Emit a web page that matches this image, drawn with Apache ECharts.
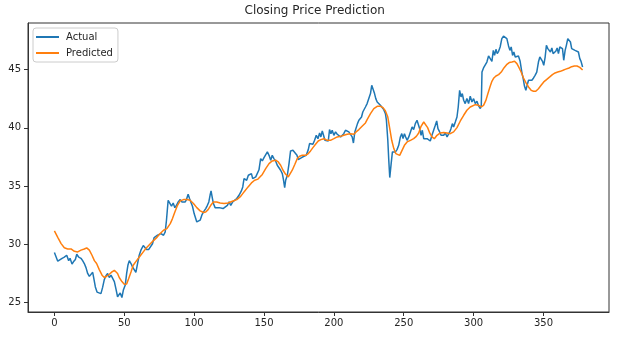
<!DOCTYPE html>
<html>
<head>
<meta charset="utf-8">
<script src="https://cdn.jsdelivr.net/npm/echarts@6/dist/echarts.min.js"></script>
<style>
html,body{margin:0;padding:0;background:#fff;}
#chart{width:617px;height:337px;}
</style>
</head>
<body>
<div id="chart"></div>
<script>
var titleText = 'Closing Price Prediction';
var seriesNames = ['Actual', 'Predicted'];
var xTickValues = [0, 50, 100, 150, 200, 250, 300, 350];
var yTickValues = [25, 30, 35, 40, 45];

var actualX = [0,1.2,2.4,3.6,5.5,7.1,8.8,10.2,11.2,12.6,13.6,15,16,17.4,19,20.2,21.4,22.6,23.8,25,26.2,27.4,28.1,29.3,30.5,31.7,33.3,34.5,35.7,36.9,38.1,39.3,40.5,41.7,42.9,44,45.2,46.4,47.1,48.3,49.3,50.7,51.7,52.6,53.6,54.8,55.9,57.1,58.3,59.5,60.7,61.9,63.6,65,65.9,67.4,68.8,70.2,71.4,73.8,76.2,78.1,79.3,80.2,81.4,82.6,83.8,85,86.2,87.4,88.6,90,91.2,92.4,93.6,94.5,95.7,96.7,97.6,98.8,100,101.2,101.9,103.1,104.3,105.5,106.7,108.3,109.5,110.5,111.4,112.1,113.1,113.8,115,116.2,117.9,119,120.7,122.1,123.8,125,126.2,127.6,129,130.5,132.1,133.8,134.8,135.7,136.7,137.6,138.8,140,141,141.9,142.9,144.1,145.2,146.4,147.6,148.8,150,151.2,152.4,153.6,154.8,155.9,157.1,158.3,159.5,160.7,161.9,163.1,163.8,164.8,165.5,166.7,167.9,169,170.7,172.1,173.6,174.5,175.5,176.9,178.6,180.2,181.7,182.6,183.8,185,186.2,187.4,188.6,189.8,190.7,191.7,192.6,193.6,194.8,196,196.9,197.9,198.8,200,201.2,202.4,203.6,204.8,206,207.1,208.3,209.5,210.7,211.9,213.1,214,215,215.9,216.9,217.9,218.8,219.8,220.7,221.7,222.6,223.8,225,226.2,227.1,228.1,229.1,230,231,232.1,233.3,234.5,235.7,236.9,237.6,238.6,239.3,240,241,241.9,242.9,244,245.2,246.4,247.6,248.6,249.5,250.5,251.4,252.4,253.6,254.8,256,257.1,258.3,259.5,260.7,261.4,262.4,263.3,264.3,265.5,266.7,267.9,269,270.2,271.4,272.6,273.6,274.5,275.7,276.7,277.6,278.6,279.8,281,282.1,282.9,283.8,284.8,285.7,286.9,288.1,289,290,291,291.9,292.9,294,295.2,296.4,297.6,298.8,300,301.2,302.4,303.6,304.8,305.5,306,307.1,308.3,309.5,310.7,311.9,313.1,314.1,315,316,316.9,317.9,319,320.2,321.4,322.6,323.8,325,326,326.9,327.9,328.8,329.8,331,332.1,333.3,334.5,335.5,336.4,337.4,338.3,339.3,340.5,341.7,342.9,344,345.2,346.4,347.4,348.3,349.3,350.2,351.2,352.1,353.1,354.1,355,356,356.9,357.9,358.8,359.8,360.7,361.7,362.6,363.6,364.5,365.5,366.4,367.4,368.3,369.3,370.2,371.4,372.6,373.8,375,376,376.9,378];
var actualY = [29.29,29.2,28.55,28.6,28.8,28.9,29.06,28.6,28.8,28.3,28.5,28.7,29.15,28.9,28.8,28.6,28.35,28.0,27.5,27.25,27.35,27.6,27.15,26.34,25.9,25.77,25.77,26.3,26.97,27.3,27.5,27.15,27.35,27.2,26.8,26.2,25.5,25.43,25.83,25.43,26.05,26.5,27.5,28.2,28.6,28.35,28.06,28.1,27.6,28.35,29.06,29.5,29.9,30.0,29.55,29.55,29.6,30.05,30.58,30.78,30.92,30.78,31.07,32.07,33.78,33.87,33.27,33.55,33.15,33.35,33.64,33.84,33.64,33.78,33.64,33.84,34.3,33.93,33.64,33.27,32.64,32.58,31.92,31.84,32.07,32.5,32.78,33.07,33.35,33.64,34.21,34.58,33.93,33.5,33.15,33.07,33.15,32.98,33.07,32.98,33.35,33.64,33.35,33.64,33.78,33.93,34.21,34.58,34.93,35.64,35.73,35.5,35.93,36.02,36.07,35.64,35.5,35.79,35.84,36.4,37.36,37.16,37.44,37.27,37.93,37.64,37.22,37.64,37.36,37.16,36.79,36.93,36.36,36.07,35.64,34.87,35.5,35.93,36.93,38.02,38.07,38.02,37.64,37.27,37.44,37.44,37.56,37.64,38.13,38.65,38.79,38.59,38.93,39.36,39.07,39.56,39.22,39.73,39.36,38.93,38.99,38.87,39.85,39.5,39.79,39.36,39.65,39.45,39.56,39.22,39.22,39.5,39.79,39.85,39.65,39.56,39.22,38.7,39.65,39.65,40.36,40.65,40.5,40.93,41.36,41.22,41.79,42.08,42.51,42.94,43.65,43.51,42.94,42.51,42.22,42.08,41.94,41.85,41.56,41.22,40.65,38.93,37.21,35.73,36.93,37.93,38.07,37.93,38.13,38.5,39.22,39.5,39.07,39.5,39.22,38.93,39.22,39.65,40.08,39.85,40.36,40.65,40.71,39.93,39.36,39.79,39.07,39.22,39.07,38.93,38.87,39.36,39.79,40.22,40.59,39.93,39.65,39.36,39.5,39.36,39.56,39.22,39.07,39.65,39.93,40.36,40.08,40.5,40.93,41.79,43.22,42.65,42.94,42.37,42.08,42.51,42.08,42.71,42.22,42.5,42.08,42.28,41.88,41.65,41.93,44.79,45.14,45.22,45.65,46.17,45.94,45.71,46.65,46.22,46.74,46.37,46.57,46.94,47.66,47.88,47.88,47.66,47.03,46.65,46.94,46.22,46.51,46.08,45.94,46.17,45.71,44.79,44.22,43.59,43.22,43.65,44.08,44.22,44.08,44.28,44.51,44.79,45.65,46.08,46.22,45.71,45.37,46.08,47.08,46.8,46.74,46.51,46.86,46.37,46.22,46.57,46.86,46.37,46.94,47.08,46.8,45.8,46.65,47.08,47.66,47.8,47.37,46.8,46.65,46.65,46.57,46.51,45.94,45.71,45.22];

var predX = [0,2.4,4.8,7.1,9.5,11.9,14.3,16.7,19,21.4,23.1,25,26.9,28.6,30.2,32.1,34.1,35.7,37.4,39.3,41.2,42.9,44,45.2,46.4,48.3,50,51.7,53.1,54.8,56.4,58.8,61.2,63.6,65.9,68.3,70.7,73,75,78.1,80.5,82.9,84.5,86.2,88.1,90,92.4,94.8,97.1,99.5,101.9,104.3,106.7,108.3,110,111.9,113.8,116.2,118.6,121.4,124.3,127.4,130.5,133.3,135.7,138.6,141,143.3,145.7,148.8,151.2,153.6,155.9,158.3,160.2,161.9,163.6,165.5,167.4,168.6,170.2,172.1,173.8,175.5,177.4,179.8,181.7,183.3,185,186.9,188.8,190.7,192.9,195.2,197.6,200,202.4,204.8,207.1,209.5,211.9,214.3,215.9,217.9,220.2,222.6,223.8,226.2,228.6,231,233.3,235.2,236.9,238.6,240,241.4,242.9,244.3,245.7,247.1,248.8,250.5,252.4,254.8,257.1,259,260.7,262.4,264.3,265.7,267.1,268.6,270.2,271.9,273.8,276.2,278.6,281,283.3,285.7,288.1,290.5,292.9,295.2,297.6,298.8,301.2,303.6,305.5,307.1,308.8,310.2,311.7,313.1,314.5,316,317.9,319.8,321.7,323.6,325.5,327.4,329.3,331,332.6,334,335.7,337.4,339.3,341.2,342.9,344.5,346.4,348.3,350.2,352.4,354.5,356.4,358.3,360.2,362.1,364,365.5,366.9,368.3,370.2,372.1,374,376,378];
var predY = [31.15,30.6,30.06,29.7,29.6,29.6,29.4,29.35,29.5,29.6,29.7,29.5,29.06,28.6,28.35,27.83,27.35,27.15,27.26,27.43,27.63,27.77,27.7,27.5,27.15,26.8,26.57,26.6,27.05,27.63,28.2,28.6,28.97,29.35,29.7,30.0,30.3,30.55,30.85,31.21,31.35,31.78,32.21,32.78,33.35,33.73,33.84,33.84,33.78,33.5,33.15,32.87,32.73,32.78,32.98,33.35,33.64,33.64,33.55,33.5,33.55,33.7,33.84,34.12,34.5,34.93,35.27,35.5,35.6,36.0,36.5,36.93,37.16,37.22,37.07,36.79,36.36,36.01,35.79,35.84,36.36,36.87,37.36,37.56,37.64,37.64,37.79,38.02,38.3,38.59,38.87,38.99,39.07,38.93,38.93,39.07,39.22,39.27,39.36,39.45,39.5,39.45,39.65,39.85,40.13,40.42,40.71,41.22,41.65,41.85,41.85,41.74,41.45,40.93,39.93,38.93,38.22,37.79,37.64,37.64,38.07,38.5,38.79,38.93,39.07,39.27,39.56,40.13,40.5,40.42,40.02,39.56,39.22,39.07,39.36,39.56,39.59,39.56,39.5,39.65,40.02,40.59,41.08,41.51,41.79,41.88,41.99,41.93,41.79,41.93,42.36,42.93,43.51,43.99,44.28,44.45,44.57,44.79,45.14,45.42,45.6,45.65,45.71,45.51,45.14,44.79,44.28,43.88,43.51,43.22,43.14,43.14,43.36,43.65,43.94,44.16,44.37,44.57,44.71,44.79,44.85,44.94,45.02,45.02,45.14,45.25,45.31,45.31,45.19,44.96];

function pairs(xs, ys) {
  var out = [];
  for (var i = 0; i < xs.length; i++) out.push([xs[i], ys[i]]);
  return out;
}

var chart = echarts.init(document.getElementById('chart'), null, {renderer: 'canvas'});
var font = 'DejaVu Sans';
var textColor = '#262626';
var lineColor = '#333333';
chart.setOption({
  animation: false,
  backgroundColor: '#ffffff',
  graphic: [{
    type: 'text',
    left: 318.5 - 74,
    top: 5,
    style: {
      text: titleText,
      fontFamily: font,
      fontSize: 12,
      fill: textColor
    }
  }],
  legend: {
    left: 33,
    top: 28,
    orient: 'vertical',
    backgroundColor: 'rgba(255,255,255,0.85)',
    borderColor: '#cccccc',
    borderWidth: 1,
    borderRadius: 3,
    padding: [3, 5, 3, 3],
    itemGap: 4,
    itemWidth: 23,
    itemHeight: 2,
    icon: 'rect',
    textStyle: {
      fontFamily: font,
      fontSize: 10,
      color: textColor,
      lineHeight: 12,
      padding: [0, 0, 0, 2]
    },
    data: seriesNames
  },
  grid: {
    left: 28,
    right: 8,
    top: 23,
    bottom: 25,
    show: true,
    borderColor: lineColor,
    borderWidth: 1,
    backgroundColor: '#ffffff'
  },
  xAxis: {
    type: 'value',
    min: -18.9,
    max: 396.9,
    axisLine: {show: true, onZero: false, lineStyle: {color: lineColor, width: 1}},
    splitLine: {show: false},
    axisTick: {show: true, inside: false, customValues: xTickValues, length: 4, lineStyle: {color: lineColor, width: 1}},
    axisLabel: {customValues: xTickValues, margin: 6, fontFamily: font, fontSize: 10, color: textColor}
  },
  yAxis: {
    type: 'value',
    min: 24.19,
    max: 49.0,
    axisLine: {show: true, onZero: false, lineStyle: {color: lineColor, width: 1}},
    splitLine: {show: false},
    axisTick: {show: true, inside: false, customValues: yTickValues, length: 4, lineStyle: {color: lineColor, width: 1}},
    axisLabel: {customValues: yTickValues, margin: 7, fontFamily: font, fontSize: 10, color: textColor}
  },
  series: [
    {
      name: seriesNames[0],
      type: 'line',
      data: pairs(actualX, actualY),
      showSymbol: false,
      symbol: 'none',
      color: '#1f77b4',
      lineStyle: {color: '#1f77b4', width: 1.5}
    },
    {
      name: seriesNames[1],
      type: 'line',
      data: pairs(predX, predY),
      showSymbol: false,
      symbol: 'none',
      color: '#ff7f0e',
      lineStyle: {color: '#ff7f0e', width: 1.5}
    }
  ]
});
</script>
</body>
</html>
